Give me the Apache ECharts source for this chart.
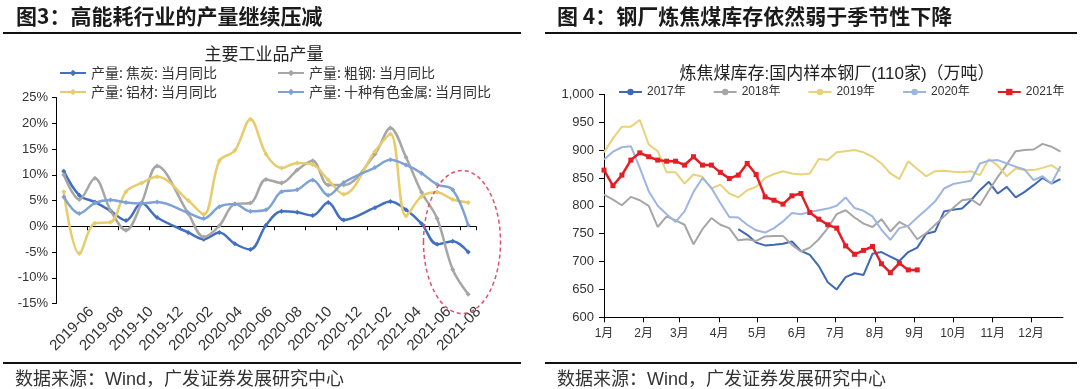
<!DOCTYPE html>
<html><head><meta charset="utf-8">
<script src="https://cdn.jsdelivr.net/npm/echarts@6/dist/echarts.min.js"></script>
<style>html,body{margin:0;padding:0;background:#fff;}#c{width:1080px;height:389px;}</style>
</head><body><div id="c"></div>
<script>
// ---------- Left chart data (当月同比, %) ----------
const leftCats = ['2019-06','2019-07','2019-08','2019-09','2019-10','2019-11','2019-12','2020-01','2020-02','2020-03','2020-04','2020-05','2020-06','2020-07','2020-08','2020-09','2020-10','2020-11','2020-12','2021-01','2021-02','2021-03','2021-04','2021-05','2021-06','2021-07','2021-08'];
const cokeYoY =       [10.7, 6.0, 4.7, 3.0, 1.1, 4.5, 1.7, null, -1.2, -2.5, -1.2, -3.4, -4.5, 0.2, 2.9, 2.7, 2.1, 4.6, 1.2, null, 3.6, 4.8, 3.2, 0.5, -3.5, -2.9, -5.0];
const steelYoY =      [10.0, 5.2, 9.3, 3.1, -0.8, 4.5, 11.7, null, 2.5, -2.1, 0.1, 4.3, 4.5, 9.1, 8.4, 10.9, 12.7, 8.0, 8.0, null, 14.0, 19.1, 13.4, 6.6, 1.5, -8.4, -13.2];
const aluminumYoY =   [6.7, -5.3, 0.6, 0.8, 6.7, 8.4, 9.6, null, 5.0, 2.3, 12.7, 14.7, 20.8, 14.0, 11.3, 12.3, 12.0, 9.0, 6.2, null, 14.5, 17.9, 2.0, 5.8, 6.6, 5.2, 4.6];
const nonferrousYoY = [5.7, 2.5, 4.5, 5.1, 4.6, 4.4, 4.7, null, 2.6, 1.5, 3.8, 4.3, 2.9, 3.2, 6.7, 7.1, 9.0, 6.0, 8.5, null, 11.4, 12.9, 11.9, 10.3, 8.1, 7.1, 0.2];
const leftNames = ['产量: 焦炭: 当月同比','产量: 粗钢: 当月同比','产量: 铝材: 当月同比','产量: 十种有色金属: 当月同比'];

// ---------- Right chart data (weekly, 万吨) ----------
const yearNames = ['2017年','2018年','2019年','2020年','2021年'];
const inv2017 = [null,null,null,null,null,null,null,null,null,null,null,null,null,null,null,
  758,748,734,729,730,732,736,719,712,692,663,650,672,679,676,714,717,709,701,717,725,750,754,790,793,795,810,828,843,822,834,815,825,837,850,840,848];
const inv2018 = [820,811,801,816,810,800,762,781,774,766,731,758,778,766,760,738,740,737,745,746,746,730,718,725,740,760,785,792,779,768,762,776,754,771,762,740,751,766,781,796,810,812,801,827,852,874,898,900,901,911,906,897];
const inv2019 = [896,921,942,942,954,910,898,860,860,840,856,852,831,838,822,815,828,834,850,857,862,858,856,858,884,882,896,898,900,896,888,876,858,848,880,866,853,862,863,861,860,862,855,884,872,853,867,864,864,868,873,862];
const inv2020 = [883,897,905,907,868,826,800,785,771,790,825,850,832,805,780,779,766,756,752,760,772,787,785,789,792,795,800,815,796,791,781,757,739,760,764,779,793,808,831,839,842,845,876,881,882,876,870,865,846,853,840,871];
const inv2021 = [864,836,855,882,895,888,882,880,880,873,888,873,873,860,849,855,876,856,816,810,803,818,822,788,776,766,760,728,713,720,727,696,680,697,685,685];

const FONT = '"Liberation Sans", "Noto Sans CJK SC", sans-serif';
const CJK = '"Noto Sans CJK SC", sans-serif';

function weekly(arr){ return arr.map((v,w)=>[new Date(2021,0,1+7*w).getTime(), v]); }

const leftColors = ['#4170C2','#A6A6A6','#E6CC6A','#7EA2D6'];
const rightColors = ['#3F68B6','#A6A6A6','#E8D27A','#9DB6E0','#E41E26'];

const leftData = [cokeYoY, steelYoY, aluminumYoY, nonferrousYoY];
const rightData = [inv2017, inv2018, inv2019, inv2020, inv2021];

const series = [];
leftData.forEach((d,i)=>{
  series.push({name:leftNames[i], type:'line', xAxisIndex:0, yAxisIndex:0, data:d,
    smooth:0.35, connectNulls:true, symbol:'diamond', symbolSize:5,
    lineStyle:{width:2.5, color:leftColors[i]}, itemStyle:{color:leftColors[i]}, z:2});
});
rightData.forEach((d,i)=>{
  const is21 = i===4;
  series.push({name:yearNames[i], type:'line', xAxisIndex:2, yAxisIndex:1, data:weekly(d),
    symbol: is21 ? 'rect' : 'none', symbolSize: is21 ? 5 : 0, showSymbol: is21,
    lineStyle:{width: is21 ? 2.5 : 2, color:rightColors[i]}, itemStyle:{color:rightColors[i]}, z:2+i});
});

function legendItem(name, left, top){
  return {data:[name], left:left, top:top, itemWidth:26, itemHeight:8, itemGap:0, padding:0,
    textStyle:{fontSize:14, color:'#333', fontFamily:CJK}};
}

const option = {
  animation:false,
  backgroundColor:'#fff',
  textStyle:{fontFamily:FONT},
  legend:[
    legendItem(leftNames[0], 59, 66),
    legendItem(leftNames[1], 277, 66),
    legendItem(leftNames[2], 59, 85),
    legendItem(leftNames[3], 277, 85),
    {data:yearNames, left:618, top:86, itemWidth:23, itemHeight:8, itemGap:27, padding:0,
      textStyle:{fontSize:12, color:'#333', fontFamily:FONT}}
  ],
  grid:[
    {left:56, top:97.5, width:420, height:206, containLabel:false},
    {left:604, top:94.3, width:459, height:223, containLabel:false},
    {left:84, top:97.5, width:402, height:206, containLabel:false}
  ],
  xAxis:[
    {gridIndex:0, type:'category', data:leftCats, boundaryGap:true, position:'bottom',
      axisLine:{show:false, onZero:false}, axisTick:{show:false}, axisLabel:{show:false}},
    {gridIndex:0, type:'category', data:leftCats, boundaryGap:true, position:'top',
      axisLine:{show:true, onZero:true, lineStyle:{color:'#000', width:1}},
      axisTick:{show:true, interval:1, inside:true, length:4, lineStyle:{color:'#000'}},
      axisLabel:{show:false}},
    {gridIndex:1, type:'time', min:new Date(2021,0,1).getTime(), max:new Date(2021,11,26).getTime(),
      splitNumber:12, minInterval:28*86400000, maxInterval:31*86400000,
      axisLine:{show:true, lineStyle:{color:'#000', width:1}},
      axisTick:{show:true, length:5, lineStyle:{color:'#000'}},
      splitLine:{show:false},
      axisLabel:{fontSize:12, color:'#333', margin:10, showMaxLabel:false, hideOverlap:false,
        formatter:function(v){ return (new Date(v).getMonth()+1)+'月'; }}},
    {gridIndex:2, type:'category', data:leftCats, boundaryGap:true, position:'bottom',
      axisLine:{show:false, onZero:false}, axisTick:{show:false}, splitLine:{show:false},
      axisLabel:{interval:1, rotate:45, fontSize:15, color:'#333', margin:6, fontFamily:FONT}}
  ],
  yAxis:[
    {gridIndex:0, type:'value', min:-15, max:25, interval:5,
      axisLine:{show:true, lineStyle:{color:'#000', width:1}},
      axisTick:{show:true, length:4, lineStyle:{color:'#000'}},
      splitLine:{show:false},
      axisLabel:{formatter:'{value}%', fontSize:13, color:'#333', margin:8}},
    {gridIndex:1, type:'value', min:600, max:1000, interval:50,
      axisLine:{show:true, lineStyle:{color:'#000', width:1}},
      axisTick:{show:true, length:5, lineStyle:{color:'#000'}},
      splitLine:{show:false},
      axisLabel:{fontSize:13, color:'#333', margin:10,
        formatter:function(v){ return echarts.format.addCommas(v); }}},
    {gridIndex:2, type:'value', min:-15, max:25, show:false, splitLine:{show:false}}
  ],
  graphic:[
    {type:'text', x:16, y:16, style:{text:'图3：高能耗行业的产量继续压减', font:'bold 21px '+CJK, fill:'#1a1a1a', textAlign:'left', textVerticalAlign:'middle', align:'left', verticalAlign:'middle'}},
    {type:'text', x:557, y:16, style:{text:'图 4：钢厂炼焦煤库存依然弱于季节性下降', font:'bold 21px '+CJK, fill:'#1a1a1a', textAlign:'left', textVerticalAlign:'middle', align:'left', verticalAlign:'middle'}},
    {type:'line', shape:{x1:3, y1:33, x2:521, y2:33}, style:{stroke:'#111', lineWidth:2}},
    {type:'line', shape:{x1:545, y1:33, x2:1077, y2:33}, style:{stroke:'#111', lineWidth:2}},
    {type:'line', shape:{x1:3, y1:363, x2:521, y2:363}, style:{stroke:'#111', lineWidth:2}},
    {type:'line', shape:{x1:545, y1:363, x2:1077, y2:363}, style:{stroke:'#111', lineWidth:2}},
    {type:'text', x:264, y:54, style:{text:'主要工业品产量', font:'17px '+CJK, fill:'#222', textAlign:'center', textVerticalAlign:'middle', align:'center', verticalAlign:'middle'}},
    {type:'text', x:837, y:74, style:{text:'炼焦煤库存:国内样本钢厂(110家)（万吨）', font:'17px '+FONT, fill:'#222', textAlign:'center', textVerticalAlign:'middle', align:'center', verticalAlign:'middle'}},
    {type:'text', x:15, y:380, style:{text:'数据来源：Wind，广发证券发展研究中心', font:'18px '+FONT, fill:'#333', textAlign:'left', textVerticalAlign:'middle', align:'left', verticalAlign:'middle'}},
    {type:'text', x:557, y:380, style:{text:'数据来源：Wind，广发证券发展研究中心', font:'18px '+FONT, fill:'#333', textAlign:'left', textVerticalAlign:'middle', align:'left', verticalAlign:'middle'}},
    {type:'ellipse', z:100, shape:{cx:462, cy:242, rx:38.5, ry:71.5}, style:{fill:'none', stroke:'#E0506A', lineWidth:1.5, lineDash:[4,3]}}
  ],
  series: series
};
const chart = echarts.init(document.getElementById('c'));
chart.setOption(option);
</script></body></html>
